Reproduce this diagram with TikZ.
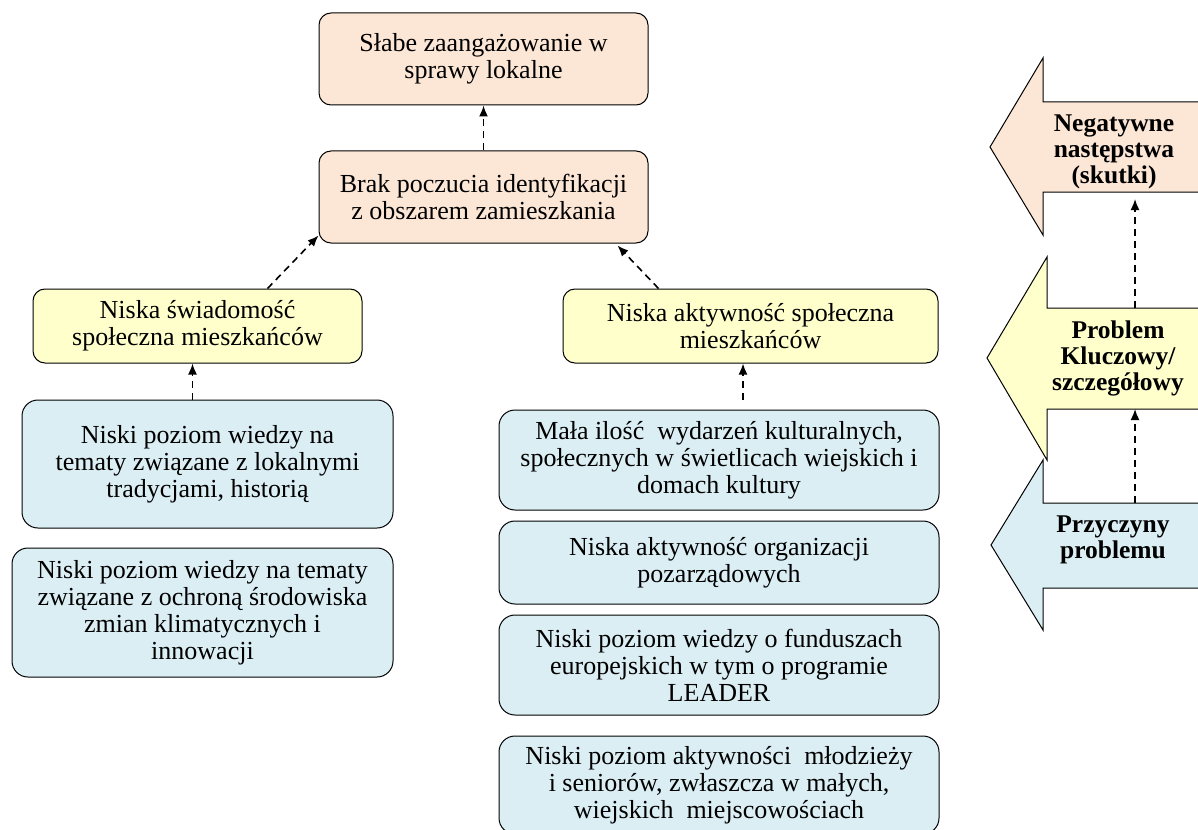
\documentclass[tikz,border=0pt]{standalone}
\usepackage{fontspec}
\setmainfont{Liberation Serif}
\usetikzlibrary{positioning,arrows.meta,calc}
\definecolor{effcol}{RGB}{252,230,214}
\definecolor{prbcol}{RGB}{255,255,204}
\definecolor{caucol}{RGB}{219,238,244}

\begin{document}
\begin{tikzpicture}[
x=1pt,y=-1pt,
box/.style={
  draw,
  line width=1pt,
  rounded corners=12pt,
  align=center,
  inner sep=4pt,
  font=\fontsize{26}{27}\selectfont
},
eff/.style={box,fill=effcol,minimum width=329pt,minimum height=92pt},
prb/.style={box,fill=prbcol,minimum height=74pt},
cau/.style={box,fill=caucol,rounded corners=16pt},
dep/.style={
  dash pattern=on 7pt off 5pt,
  line width=1.6pt,
  -{Latex[length=11pt,width=9pt]}
},
lgtext/.style={
  align=center,
  font=\bfseries\fontsize{25.5}{26}\selectfont
},
lgarr/.style={draw,line width=1pt}
]
\useasboundingbox (0,0) rectangle (1198,829);

\node[eff] at (483.5,59) (slabe)
  {Słabe zaangażowanie w\\sprawy lokalne};
\node[eff] at (483.5,197) (brak)
  {Brak poczucia identyfikacji\\z obszarem zamieszkania};

\node[prb,minimum width=329pt] at (197.5,326) (swiad)
  {Niska świadomość\\społeczna mieszkańców};
\node[prb,minimum width=375pt] at (750.5,326) (aktyw)
  {Niska aktywność społeczna\\mieszkańców};

\node[cau,minimum width=371pt,minimum height=128pt] at (207.5,464) (wiedzaTrad)
  {Niski poziom wiedzy na\\tematy związane z lokalnymi\\tradycjami, historią};
\node[cau,minimum width=381pt,minimum height=129pt] at (202.5,612.5) (wiedzaEko)
  {Niski poziom wiedzy na tematy\\związane z ochroną środowiska\\zmian klimatycznych i\\innowacji};

\node[cau,minimum width=440pt,minimum height=100pt] at (719,460) (wydarz)
  {Mała ilość\ \ wydarzeń kulturalnych,\\społecznych w świetlicach wiejskich i\\domach kultury};
\node[cau,minimum width=440pt,minimum height=83pt,below=10pt of wydarz] (ngo)
  {Niska aktywność organizacji\\pozarządowych};
\node[cau,minimum width=440pt,minimum height=100pt,below=10pt of ngo] (fundusze)
  {Niski poziom wiedzy o funduszach\\europejskich w tym o programie\\LEADER};
\node[cau,minimum width=440pt,minimum height=98pt,below=20pt of fundusze] (mlodziez)
  {Niski poziom aktywności\ \ młodzieży\\i seniorów, zwłaszcza w małych,\\wiejskich\ \ miejscowościach};

\draw[dep] (brak.north) -- (slabe.south);
\draw[dep] ($(swiad.north)+(70,0)$) -- ($(brak.south west)+(0,-8)$);
\draw[dep] ($(aktyw.north)+(-92,0)$) -- ($(brak.south east)+(-31,2)$);
\draw[dep] ($(wiedzaTrad.north)+(-15,0)$) -- ($(swiad.south)+(-5,0)$);
\draw[dep] ($(wydarz.north)+(24,-10)$) -- ($(aktyw.south)+(-7.5,0)$);

% legenda
\filldraw[lgarr,fill=effcol] (1210,102) -- (1043,102) -- (1043,58) -- (990,147)
  -- (1043,235) -- (1043,192) -- (1210,192);
\filldraw[lgarr,fill=prbcol] (1210,308) -- (1047,308) -- (1047,257) -- (987,358)
  -- (1047,460) -- (1047,409) -- (1210,409);
\filldraw[lgarr,fill=caucol] (1210,503) -- (1043,503) -- (1043,460) -- (991,545)
  -- (1043,630) -- (1043,588) -- (1210,588);

\node[lgtext] at (1114,152) (skutki) {Negatywne\\następstwa\\(skutki)};
\node[lgtext] at (1118,358) (problem) {Problem\\Kluczowy/\\szczegółowy};
\node[lgtext] at (1113,540) (przyczyny) {Przyczyny\\problemu};

\coordinate (effBot) at (1135,192);
\coordinate (prbTop) at (1135,308);
\coordinate (prbBot) at (1135,409);
\coordinate (cauTop) at (1135,503);

\draw[dep,shorten >=7pt] (prbTop) -- (effBot);
\draw[dep] (cauTop) -- (prbBot);
\end{tikzpicture}
\end{document}
